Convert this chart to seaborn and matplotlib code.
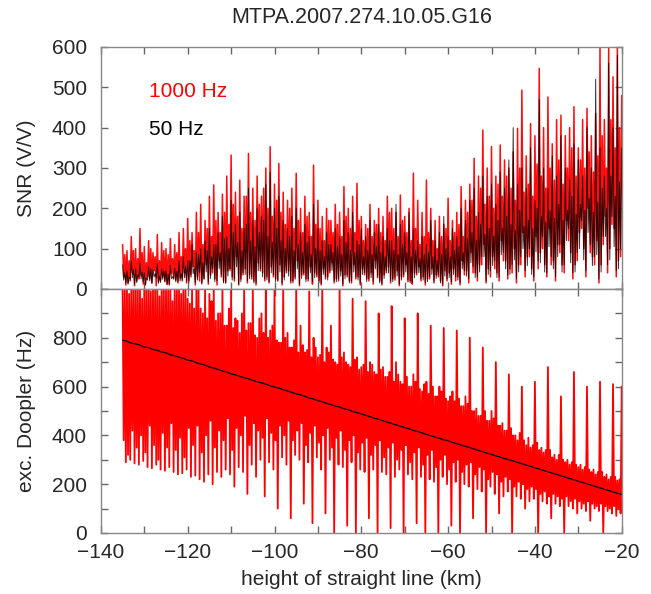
import numpy as np
import pandas as pd
import matplotlib
matplotlib.use("Agg")
import matplotlib.pyplot as plt
from matplotlib.ticker import MultipleLocator, FuncFormatter
import seaborn as sns

# ---------------- data ----------------
km = list(range(-135, -19))  # 1 km grid, -135 ... -20

# SNR, 1000 Hz: per-km spikes (hi/lo) and dense band (core_hi/core_lo)
snr1000_hi = [110, 95, 130, 100, 150, 105, 120, 90, 135, 115, 100, 125, 110, 140,
              150, 175, 140, 190, 210, 170, 230, 258, 190, 235, 280, 332, 240, 270, 230, 336,
              250, 280, 230, 300, 353, 260, 311, 240, 220, 250, 287, 200, 230, 190, 307, 220,
              180, 200, 170, 210, 190, 254, 200, 230, 262, 180, 160, 210, 170, 200, 180, 230,
              200, 190, 233, 180, 200, 287, 220, 190, 270, 200, 170, 180, 160, 225, 170, 190,
              254, 220, 260, 324, 280, 394, 300, 353, 280, 357, 320, 300, 340, 398, 493, 330,
              410, 380, 547, 400, 476, 360, 420, 431, 380, 400, 452, 350, 420, 448, 380, 435,
              600, 420, 600, 526, 600, 480]
snr1000_lo = [10, 20, 8, 25, 12, 30, 15, 8, 22, 18, 10, 25, 15, 20,
              15, 30, 10, 20, 25, 12, 40, 10, 30, 15, 50, 20, 10, 35, 15, 25, 10, 45, 20, 15, 30, 20,
              10, 40, 15, 25, 8, 35, 20, 12, 30, 10, 25, 40, 15, 20, 8, 30, 15, 25, 10, 35,
              20, 12, 28, 10, 40, 15, 22, 8, 30, 18, 12, 35, 20, 10, 25, 15, 30, 8, 20, 12,
              20, 10, 35, 15, 40, 20, 60, 15, 30, 50, 20, 70, 25, 40, 15, 60, 30, 80, 20, 50,
              100, 30, 60, 20, 90, 40, 120, 25, 70, 150, 30, 90, 60, 15, 110, 40, 160, 30, 80, 20]
snr1000_core_hi = [85, 70, 95, 75, 90, 65, 100, 80, 70, 95, 85, 75, 90, 80,
                   100, 120, 95, 140, 110, 150, 130, 170, 140, 190, 160, 210, 180, 150, 230, 190,
                   170, 210, 250, 200, 180, 220,
                   190, 160, 200, 150, 170, 140, 180, 130, 160, 150, 120, 170, 140, 160, 130, 180,
                   150, 140, 170, 120, 150, 130, 160, 140, 120, 190, 150, 130, 170, 140, 120, 150,
                   110, 130, 140, 120, 100, 130, 150, 120,
                   140, 160, 130, 190, 220, 180, 250, 210, 230, 200, 260, 230, 280, 250, 220, 300,
                   240, 260, 230, 310, 280, 250, 300, 270, 320, 260, 300, 350, 280, 320, 300, 340,
                   290, 330, 380, 300, 420, 350, 400, 380]
snr1000_core_lo = [30, 15, 40, 20, 35, 10, 25, 45, 18, 30, 12, 38, 22, 28,
                   40, 20, 55, 30, 15, 60, 35, 25, 70, 20, 45, 30, 80, 25, 50, 35, 20, 65, 40, 30, 55, 25,
                   60, 30, 45, 20, 70, 35, 25, 55, 40, 20, 50, 30, 65, 25, 45, 35, 20, 60, 30, 50,
                   25, 40, 70, 20, 35, 55, 25, 45, 30, 60, 20, 40, 55, 30, 25, 50, 35, 20, 45, 40,
                   50, 30, 70, 45, 90, 40, 60, 110, 50, 80, 40, 120, 70, 50, 100, 60, 140, 80, 50, 130,
                   90, 60, 150, 70, 110, 60, 170, 90, 60, 140, 100, 200, 80, 120, 60, 180, 100, 150, 70, 220]

# SNR, 50 Hz
snr50_hi = [60, 45, 70, 50, 65, 40, 55, 48, 62, 50, 45, 58, 52, 70,
            80, 70, 110, 90, 100, 120, 150, 110, 140, 180, 130, 220, 160, 190, 150, 250, 170, 200, 180, 260, 290, 200,
            230, 170, 150, 180, 200, 140, 160, 130, 210, 150, 120, 140, 110, 150, 130, 170, 140, 190, 120, 150,
            130, 170, 140, 160, 130, 150, 120, 210, 160, 140, 190, 150, 120, 130, 110, 170, 120, 140, 180, 130,
            150, 130, 200, 170, 220, 250, 190, 280, 230, 260, 210, 290, 250, 320, 400, 260, 300, 250, 350, 220,
            470, 300, 250, 330, 280, 380, 300, 270, 360, 320, 280, 400, 300, 520, 350, 280, 560, 400, 580, 350]
snr50_lo = [15, 25, 12, 30, 18, 22, 14, 28, 16, 20, 12, 26, 18, 24,
            20, 35, 15, 40, 25, 18, 50, 20, 35, 15, 45, 25, 12, 40, 20, 30, 15, 50, 25, 18, 35, 22,
            15, 45, 20, 30, 12, 40, 25, 18, 35, 14, 30, 45, 20, 25, 12, 35, 20, 30, 15, 40,
            25, 18, 32, 14, 45, 20, 28, 12, 35, 22, 16, 40, 25, 15, 30, 20, 35, 12, 25, 18,
            30, 15, 45, 25, 55, 30, 80, 20, 45, 70, 30, 90, 35, 60, 25, 80, 45, 100, 30, 70,
            130, 40, 80, 30, 110, 60, 150, 40, 90, 170, 45, 110, 80, 25, 130, 60, 180, 45, 100, 30]
snr50_core_hi = [40, 30, 48, 35, 42, 28, 50, 38, 32, 45, 36, 30, 44, 38,
                 55, 70, 50, 85, 65, 95, 80, 110, 90, 125, 100, 140, 115, 95, 160, 120, 105, 140, 170, 130, 115, 150,
                 120, 100, 130, 95, 110, 90, 115, 85, 100, 95, 80, 110, 90, 105, 85, 115, 95, 90, 110, 80,
                 95, 85, 105, 90, 80, 120, 95, 85, 110, 90, 80, 95, 75, 85, 90, 80, 70, 85, 100, 80,
                 95, 105, 90, 125, 140, 120, 160, 135, 150, 130, 170, 150, 180, 160, 145, 195, 155, 170, 150, 200,
                 180, 165, 195, 175, 210, 170, 195, 230, 185, 210, 195, 225, 190, 215, 250, 200, 280, 230, 265, 250]
snr50_core_lo = [22, 12, 28, 16, 25, 10, 20, 30, 14, 24, 10, 26, 18, 20,
                 28, 15, 38, 22, 12, 42, 26, 18, 50, 15, 32, 22, 55, 18, 36, 26, 15, 45, 30, 22, 40, 18,
                 42, 22, 32, 15, 50, 26, 18, 40, 28, 15, 36, 22, 46, 18, 32, 26, 15, 42, 22, 36,
                 18, 28, 50, 15, 26, 40, 18, 32, 22, 42, 15, 28, 40, 22, 18, 36, 26, 15, 32, 28,
                 36, 22, 50, 32, 65, 28, 42, 80, 36, 58, 28, 85, 50, 36, 72, 42, 100, 58, 36, 92,
                 65, 42, 105, 50, 80, 42, 120, 65, 42, 100, 72, 140, 58, 85, 42, 130, 72, 105, 50, 155]

# excess Doppler, 1000 Hz
dop1000_hi = [1000, 1000, 1000, 1000, 1000, 1000, 1000, 1000, 1000, 1000, 1000, 1000, 1000, 1000, 1000,
              960, 1000, 1000, 920, 1000, 980, 1000, 900,
              1000, 850, 1000, 880, 820, 1000, 860, 1000, 800, 900, 1000, 830, 1000,
              780, 1000, 820, 760, 1000, 850, 740, 990, 800, 720, 1000, 760, 850, 700, 1000, 740, 690, 960, 720, 680,
              950, 700, 660, 900, 680, 640, 930, 700, 620, 880, 600, 650, 900, 580, 620, 850, 560, 600, 840, 540,
              580, 830, 520, 560, 800, 500, 480, 760, 460, 500, 700, 440, 420, 650, 400, 380, 600, 360, 350, 620,
              340, 330, 680, 310, 300, 560, 290, 280, 660, 270, 260, 600, 250, 240, 620, 230, 220, 610, 215, 600]
dop1000_lo = [290, 300, 285, 280, 295, 270, 265, 280, 260, 255, 270, 250, 240, 245, 260, 230, 235, 220, 210, 240, 200, 250, 230,
              260, 240, 190, 270, 250, 160, 280, 230, 300, 150, 290, 260, 100,
              310, 280, 60, 320, 300, 120, 290, 40, 310, 260, 80, 300, 0, 280, 270, 30, 290, 0, 260, 250,
              60, 260, 0, 250, 240, 20, 230, 260, 0, 240, 220, 40, 230, 0, 220, 210, 0, 230, 200, 30,
              210, 0, 200, 190, 60, 180, 170, 0, 190, 160, 80, 150, 170, 0, 150, 140, 100, 130, 140, 0,
              130, 120, 60, 120, 110, 0, 110, 100, 80, 100, 90, 50, 100, 90, 0, 90, 80, 70, 80, 100]
dop1000_core_hi = [1000, 980, 1000, 1000, 960, 1000, 990, 1000, 970, 1000, 1000, 950, 1000, 980, 1000, 940,
                   920, 1000, 900, 880, 950, 870, 900, 850, 920, 840, 870, 900, 830, 860, 810, 880, 820, 800, 850, 790,
                   780, 800, 760, 790, 740, 770, 750, 720, 760, 730, 700, 740, 710, 690, 720, 700, 680, 710, 670, 690,
                   660, 690, 650, 670, 640, 660, 620, 650, 610, 640, 600, 620, 590, 610, 570, 600, 560, 580, 550, 560,
                   540, 550, 520, 530, 500, 510, 480, 500, 460, 470, 440, 450, 420, 430, 400, 410, 380, 390, 360, 370,
                   350, 340, 340, 320, 320, 300, 300, 290, 280, 280, 270, 260, 260, 250, 250, 240, 230, 230, 220, 220]
dop1000_core_lo = [380, 320, 420, 350, 400, 330, 440, 360, 300, 410, 350, 450, 340, 390, 310, 430,
                   360, 440, 330, 400, 460, 350, 420, 380, 470, 340, 430, 400, 480, 360, 450, 420, 390, 470, 410, 380,
                   440, 400, 460, 380, 420, 450, 360, 410, 440, 370, 400, 430, 350, 390, 420, 340, 380, 400, 330, 370,
                   390, 320, 360, 380, 310, 350, 370, 300, 340, 360, 290, 330, 350, 280, 320, 340, 270, 300, 320, 260,
                   290, 300, 250, 280, 290, 240, 270, 260, 220, 250, 240, 210, 230, 220, 190, 210, 200, 180, 190, 180,
                   160, 170, 150, 160, 150, 140, 150, 130, 140, 130, 120, 130, 120, 110, 120, 110, 100, 110, 100, 110]

# excess Doppler, 50 Hz
dop50 = [790, 786, 778, 775, 770, 762, 760, 752, 748, 742,
         738, 730, 727, 720, 716, 708, 705, 698, 692, 688,
         680, 676, 670, 664, 660, 652, 648, 642, 636, 632,
         625, 620, 615, 610, 603, 598, 594, 587, 582, 576,
         570, 566, 560, 553, 549, 542, 538, 531, 526, 520,
         516, 509, 505, 498, 493, 488, 482, 477, 470, 466,
         460, 454, 449, 443, 438, 432, 427, 420, 416, 410,
         404, 399, 393, 388, 382, 378, 371, 366, 360, 355,
         350, 344, 338, 333, 327, 322, 316, 311, 305, 300,
         295, 289, 284, 278, 273, 267, 262, 256, 251, 245,
         240, 234, 229, 223, 218, 212, 207, 201, 196, 190,
         185, 179, 174, 168, 163, 158]

title = "MTPA.2007.274.10.05.G16"
label_red = "1000 Hz"
label_black = "50 Hz"


def zigzag(hi, lo, core_hi, core_lo):
    """Sequence of samples inside each km: spike up, band low, band high, spike down."""
    xs, ys = [], []
    for k, h, cl, ch, l in zip(km, hi, core_lo, core_hi, lo):
        xs += [k, k + 0.25, k + 0.5, k + 0.75]
        ys += [h, cl, ch, l]
    return pd.DataFrame({"x": xs, "y": ys})


df_snr1000 = zigzag(snr1000_hi, snr1000_lo, snr1000_core_hi, snr1000_core_lo)
df_snr50 = zigzag(snr50_hi, snr50_lo, snr50_core_hi, snr50_core_lo)
df_dop1000 = zigzag(dop1000_hi, dop1000_lo, dop1000_core_hi, dop1000_core_lo)
df_dop50 = pd.DataFrame({"x": km, "y": dop50})

# ---------------- style ----------------
sns.set_style("ticks")
plt.rcParams["font.family"] = ["Liberation Sans", "DejaVu Sans"]
plt.rcParams["font.size"] = 15

fig = plt.figure(figsize=(6.51, 5.94), dpi=100)
ax1 = fig.add_axes([0.155, 0.5135, 0.800, 0.4074])
ax2 = fig.add_axes([0.155, 0.1027, 0.800, 0.4108], sharex=ax1)

sns.lineplot(data=df_snr1000, x="x", y="y", ax=ax1, color="#ff0000", lw=1.1,
             estimator=None, sort=False, alpha=0.95)
sns.lineplot(data=df_snr50, x="x", y="y", ax=ax1, color="black", lw=0.7,
             estimator=None, sort=False, alpha=0.8)
sns.lineplot(data=df_dop1000, x="x", y="y", ax=ax2, color="#ff0000", lw=1.3,
             estimator=None, sort=False, alpha=1.0)
sns.lineplot(data=df_dop50, x="x", y="y", ax=ax2, color="black", lw=0.9,
             estimator=None, sort=False)

ax1.set_xlim(-140, -20)
ax1.set_ylim(0, 600)
ax2.set_ylim(0, 1000)

ax1.yaxis.set_major_locator(MultipleLocator(100))
ax2.set_yticks([0, 200, 400, 600, 800])
ax2.yaxis.set_minor_locator(MultipleLocator(100))
ax2.xaxis.set_major_locator(MultipleLocator(20))
ax2.xaxis.set_minor_locator(MultipleLocator(10))

for ax in (ax1, ax2):
    ax.tick_params(which="both", direction="in", top=True, right=True,
                   length=5, width=1, color="#666666", labelsize=15)
    ax.tick_params(axis="y", pad=10)
    ax.tick_params(axis="x", pad=7)
    for s in ax.spines.values():
        s.set_color("#888888")
        s.set_linewidth(1)
    ax.set_xlabel("")
    ax.set_ylabel("")

ax1.tick_params(axis="x", labelbottom=False)
ax2.xaxis.set_major_formatter(FuncFormatter(lambda v, p: f"{v:.0f}".replace("-", "\u2212")))

ax1.set_ylabel("SNR (V/V)", fontsize=15)
ax2.set_ylabel("exc. Doopler (Hz)", fontsize=15)
ax1.yaxis.set_label_coords(-0.125, 0.5)
ax2.yaxis.set_label_coords(-0.125, 0.5)
ax2.set_xlabel("height of straight line (km)", fontsize=15, labelpad=6)
ax1.set_title(title, fontsize=15.5, pad=17)

ax1.text(-129, 490, label_red, color="#ff0000", fontsize=15, ha="left", va="center")
ax1.text(-129, 396, label_black, color="black", fontsize=15, ha="left", va="center")

fig.savefig("out.png", dpi=100)
